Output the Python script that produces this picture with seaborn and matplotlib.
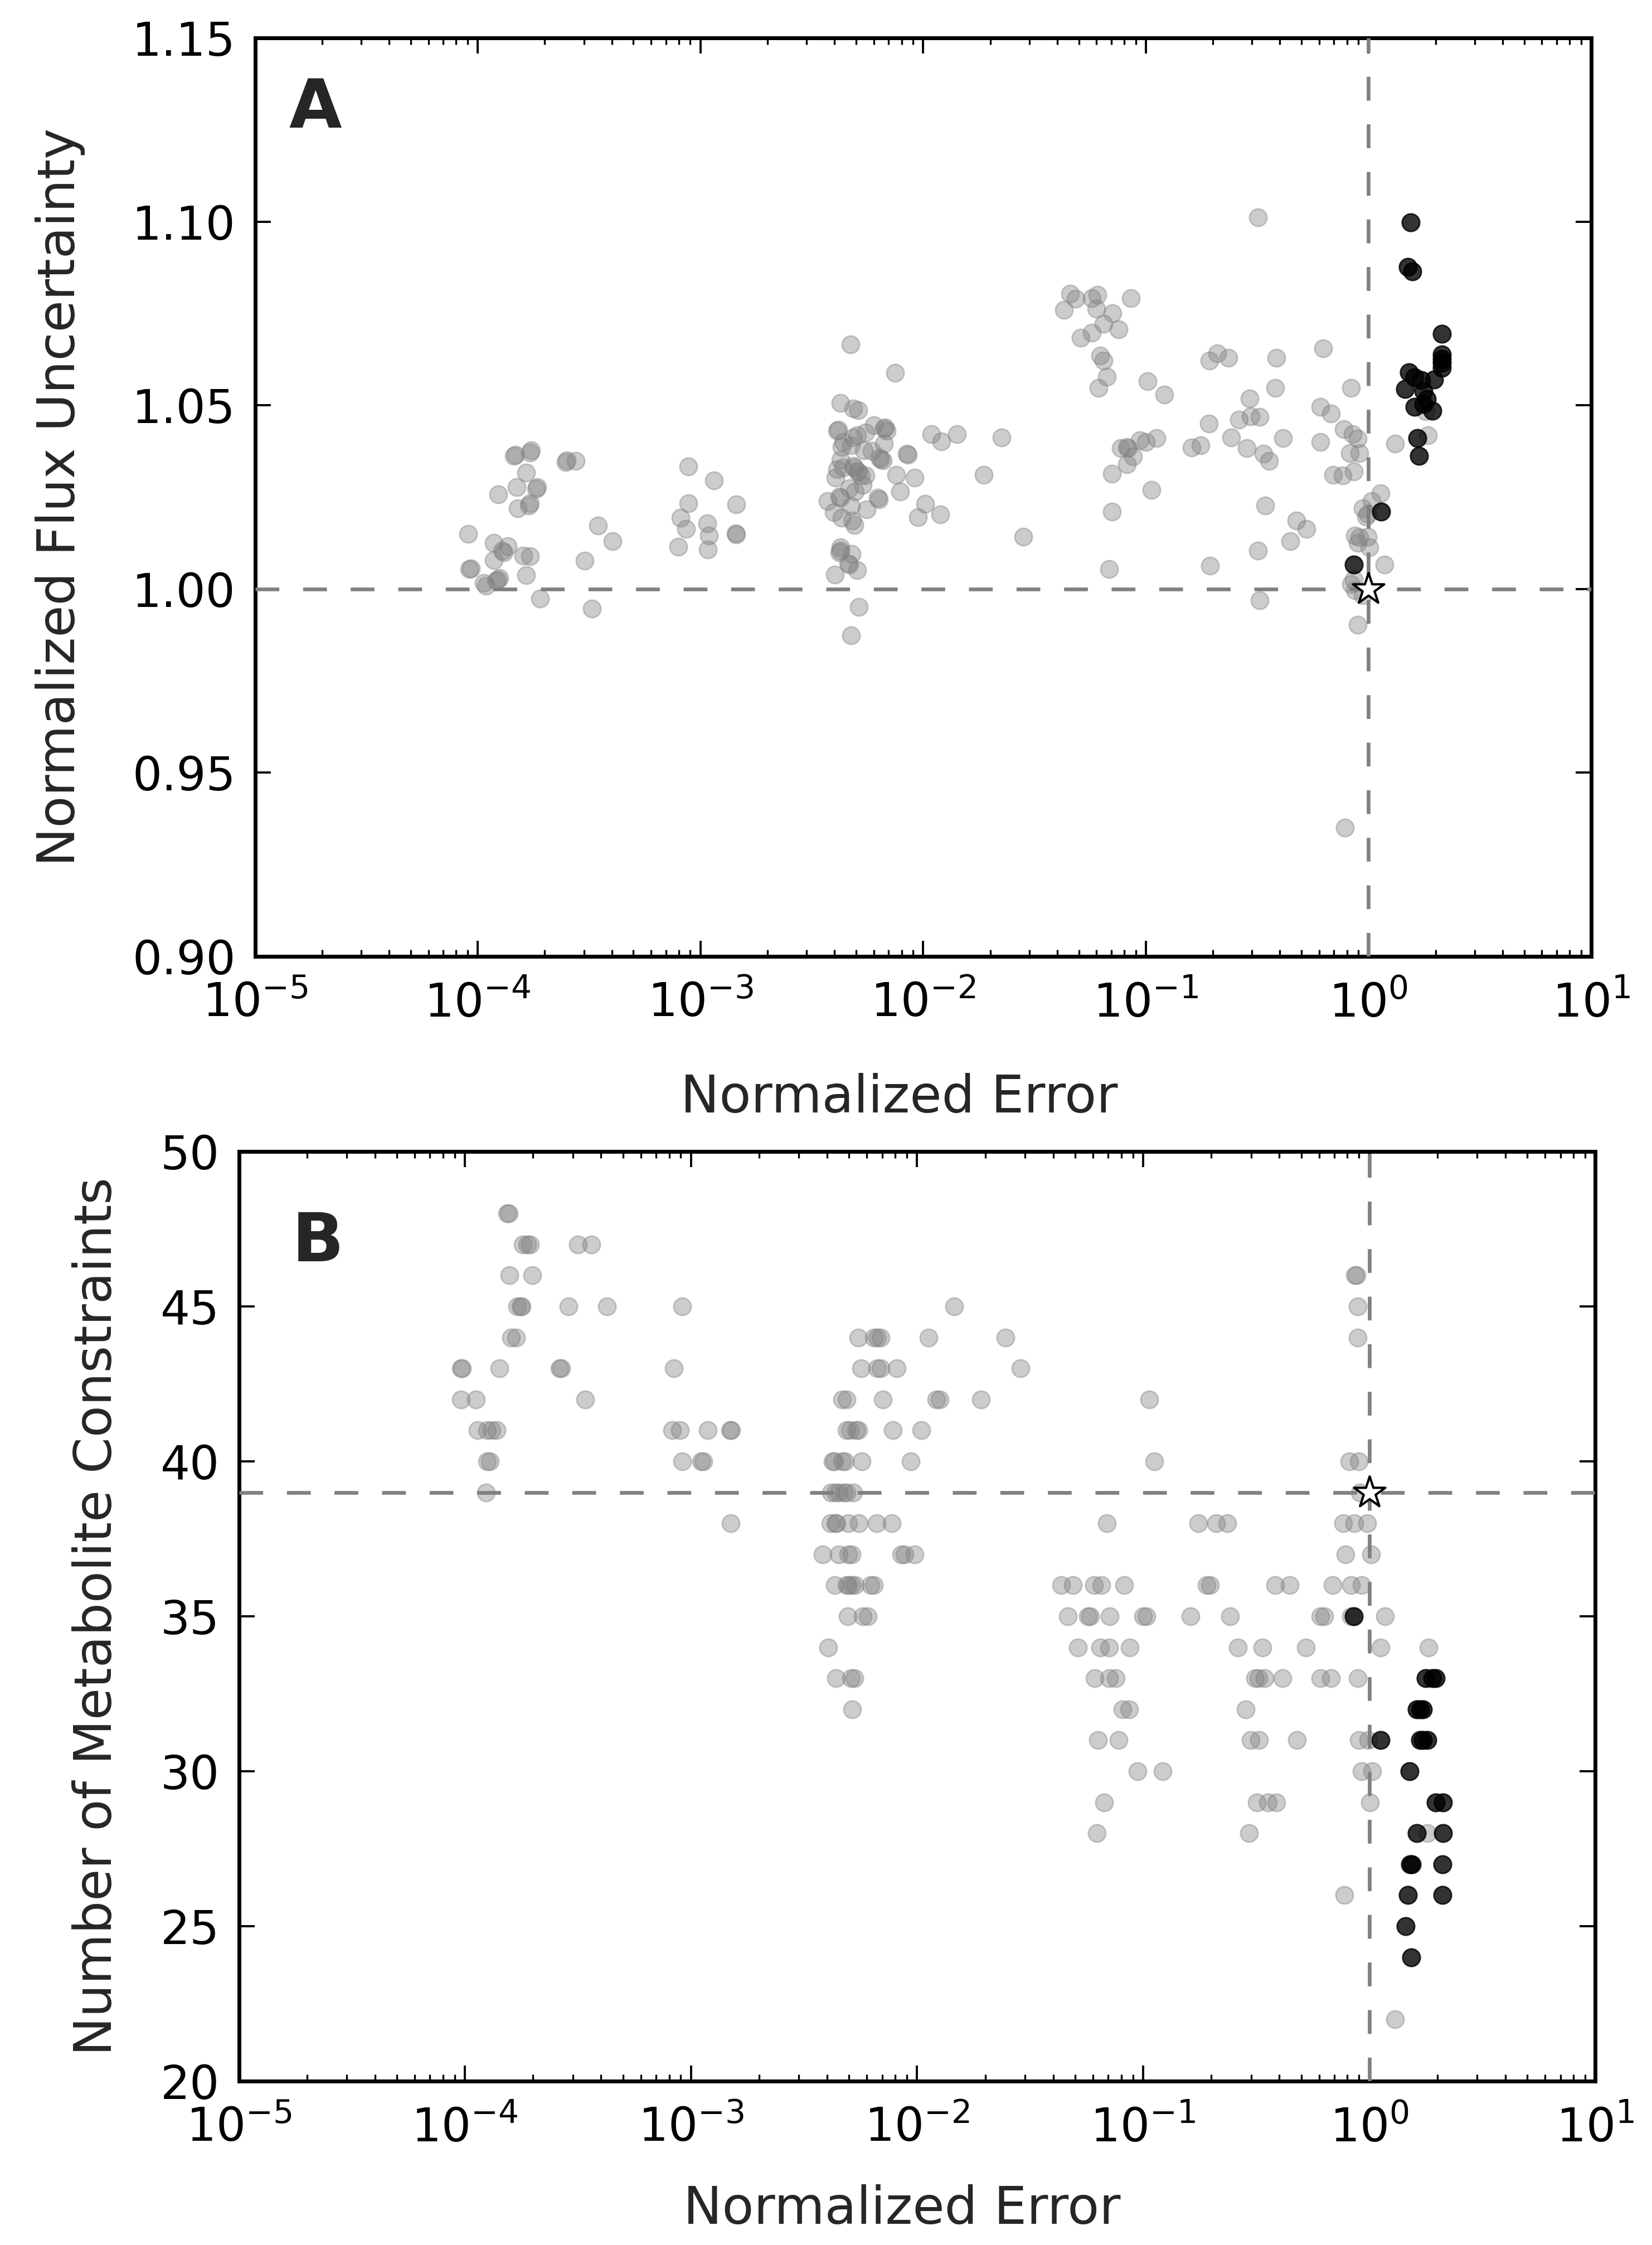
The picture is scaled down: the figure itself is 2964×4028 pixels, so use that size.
import numpy as np
import matplotlib
matplotlib.use("Agg")
import matplotlib.pyplot as plt
import seaborn as sns
from matplotlib.ticker import LogLocator, FixedLocator, FormatStrFormatter, NullLocator

# ==========================================
# Data (x values stored as log10 of normalized error)
# ==========================================
# Panel A: normalized error vs normalized flux uncertainty, grey solutions
a_gray_log_err = [
    -4.043, -4.037, -4.030, -3.972, -3.963, -3.910, -3.918, -3.902, -3.928, -3.928,
    -3.884, -3.890, -3.866, -3.796, -3.764, -3.782, -3.909, -3.826, -3.783, -3.831,
    -3.838, -3.760, -3.766, -3.732, -3.737, -3.764, -3.770, -3.820, -3.720, -3.600,
    -3.606, -3.561, -3.519, -3.461, -3.394, -3.487,
    -3.055, -2.940, -3.055, -3.090, -3.064, -2.970, -2.962, -3.099, -2.967, -2.838,
    -2.838, -2.842,
    -2.327, -2.126, -2.371, -2.314, -2.291, -2.385, -2.380, -2.358, -2.314, -2.297,
    -2.258, -2.221, -2.177, -2.172, -2.164, -2.177, -2.367, -2.323, -2.265, -2.230,
    -2.371, -2.196, -2.191, -2.182, -2.073, -2.069, -2.385, -2.358, -2.314, -2.309,
    -2.297, -2.292, -2.279, -2.258, -2.394, -2.270, -2.332, -2.305, -2.376, -2.371,
    -2.429, -2.323, -2.203, -2.199, -2.253, -2.402, -2.367, -2.318, -2.309, -2.372,
    -2.376, -2.371, -2.320, -2.335, -2.330, -2.297, -2.397, -2.288, -2.323, -2.120,
    -2.037, -2.103, -1.991, -2.023, -1.923, -1.962, -1.917, -1.847, -1.729, -1.648,
    -0.497, -1.340, -1.314, -1.243, -1.217, -1.367, -1.222, -1.150, -1.190, -1.123,
    -1.243, -1.293, -1.205, -1.190, -1.176, -1.212, -0.991, -0.917, -1.067, -0.203,
    -0.679, -0.714, -0.630, -0.414, -0.418, -0.079, -0.533, -0.718, -0.582, -0.529,
    -0.489, -0.217, -0.168, -0.111, -0.071, -0.048, -0.617, -0.547, -0.471, -0.446,
    -0.383, -0.217, -0.794, -0.755, -1.111, -1.085, -1.080, -1.058, -1.026, -1.000,
    -0.952, -1.085, -1.152, -0.083, -0.041, -0.159, -0.115, -0.065, 0.118, 0.268,
    0.256, -0.974, -1.152, -0.464, -0.323, -0.279, -0.351, -0.497, -1.550, -1.164,
    -0.711, -0.489, -0.048, 0.053, 0.014, -0.026, -0.004, -0.012, -0.062, -0.041,
    -0.004, -0.048, 0.005, 0.072, -0.079, -0.062, -0.026, -0.067, -0.107,
]
a_gray_unc = [
    1.0150, 1.0054, 1.0056, 1.0017, 1.0009, 1.0026, 1.0022, 1.0030, 1.0126, 1.0078,
    1.0100, 1.0104, 1.0117, 1.0091, 1.0089, 1.0037, 1.0257, 1.0278, 1.0316, 1.0365,
    1.0362, 1.0377, 1.0372, 1.0277, 1.0272, 1.0233, 1.0228, 1.0219, 0.9974, 1.0350,
    1.0346, 1.0348, 1.0077, 1.0172, 1.0130, 0.9947,
    1.0333, 1.0296, 1.0233, 1.0194, 1.0163, 1.0178, 1.0146, 1.0115, 1.0108, 1.0231,
    1.0148, 1.0152,
    1.0665, 1.0588, 1.0507, 1.0491, 1.0487, 1.0430, 1.0434, 1.0400, 1.0413, 1.0419,
    1.0426, 1.0445, 1.0437, 1.0440, 1.0430, 1.0395, 1.0387, 1.0391, 1.0378, 1.0376,
    1.0352, 1.0357, 1.0353, 1.0350, 1.0368, 1.0365, 1.0326, 1.0330, 1.0335, 1.0331,
    1.0322, 1.0318, 1.0309, 1.0309, 1.0303, 1.0283, 1.0274, 1.0265, 1.0252, 1.0248,
    1.0239, 1.0226, 1.0248, 1.0244, 1.0216, 1.0209, 1.0194, 1.0187, 1.0174, 1.0113,
    1.0100, 1.0104, 1.0096, 1.0070, 1.0066, 1.0052, 1.0039, 0.9951, 0.9873, 1.0310,
    1.0303, 1.0265, 1.0232, 1.0196, 1.0203, 1.0421, 1.0402, 1.0421, 1.0310, 1.0413,
    1.1011, 1.0804, 1.0790, 1.0791, 1.0800, 1.0759, 1.0763, 1.0750, 1.0722, 1.0707,
    1.0698, 1.0684, 1.0635, 1.0622, 1.0577, 1.0548, 1.0565, 1.0529, 1.0791, 1.0655,
    1.0642, 1.0622, 1.0630, 1.0629, 1.0548, 1.0548, 1.0519, 1.0450, 1.0461, 1.0470,
    1.0468, 1.0496, 1.0478, 1.0435, 1.0422, 1.0409, 1.0413, 1.0383, 1.0368, 1.0348,
    1.0411, 1.0400, 1.0385, 1.0391, 1.0383, 1.0387, 1.0383, 1.0361, 1.0404, 1.0400,
    1.0411, 1.0339, 1.0313, 1.0370, 1.0370, 1.0311, 1.0309, 1.0320, 1.0396, 1.0419,
    1.0483, 1.0270, 1.0210, 1.0228, 1.0187, 1.0163, 1.0130, 1.0104, 1.0142, 1.0055,
    1.0063, 0.9970, 0.9902, 1.0261, 1.0239, 1.0219, 1.0204, 1.0197, 1.0145, 1.0141,
    1.0143, 1.0126, 1.0113, 1.0067, 1.0013, 0.9996, 0.9983, 1.0026, 0.9350,
]

# Panel A: highlighted (black) solutions
a_black_log_err = [0.190, 0.176, 0.198, 0.330, 0.330, 0.330, 0.330, 0.330, 0.182, 0.208,
                   0.238, 0.295, 0.164, 0.247, 0.261, 0.247, 0.208, 0.287, 0.220, 0.226,
                   0.056, -0.065]
a_black_unc = [1.0998, 1.0876, 1.0865, 1.0694, 1.0639, 1.0626, 1.0616, 1.0602, 1.0590, 1.0576,
               1.0568, 1.0570, 1.0545, 1.0539, 1.0517, 1.0504, 1.0496, 1.0485, 1.0411, 1.0363,
               1.0211, 1.0067]

# Panel B: number of metabolite constraints (one entry per row of points)
b_gray_rows = [48, 47, 46, 45, 44, 43, 42, 41, 40, 39, 38, 37, 36, 35, 34, 33, 32, 31, 30, 29, 28, 26, 22]
b_gray_log_err = [
    [-3.812, -3.806],
    [-3.745, -3.725, -3.713, -3.500, -3.441],
    [-3.804, -3.701, -0.064, -0.057],
    [-3.770, -3.755, -3.748, -3.543, -3.373, -3.038, -1.836, -0.052],
    [-3.797, -3.773, -2.260, -2.190, -2.176, -2.162, -1.950, -1.609, -0.052],
    [-4.018, -4.012, -3.847, -3.582, -3.574, -3.076, -2.247, -2.176, -2.162, -2.090, -1.543],
    [-4.019, -3.950, -3.469, -2.332, -2.313, -2.152, -1.915, -1.901, -1.717, -0.972],
    [-3.943, -3.903, -3.882, -3.861, -3.083, -3.048, -2.925, -2.828, -2.822, -2.311, -2.297,
     -2.271, -2.261, -2.108, -1.981],
    [-3.903, -3.889, -3.038, -2.956, -2.945, -2.374, -2.367, -2.332, -2.318, -2.246, -2.028,
     -0.951, -0.088, -0.047],
    [-3.906, -2.381, -2.360, -2.346, -2.325, -2.311, -2.282, -0.041],
    [-2.825, -2.384, -2.360, -2.355, -2.304, -2.257, -2.179, -2.113, -1.160, -0.755, -0.677,
     -0.627, -0.115, -0.066, -0.009],
    [-2.417, -2.346, -2.304, -2.290, -2.070, -2.055, -2.011, -0.106, 0.007],
    [-2.364, -2.311, -2.304, -2.289, -2.275, -2.205, -2.190, -1.363, -1.310, -1.218, -1.186,
     -1.083, -0.720, -0.704, -0.417, -0.352, -0.161, -0.080, -0.034],
    [-2.308, -2.240, -2.219, -1.333, -1.245, -1.235, -1.148, -0.999, -0.985, -0.790, -0.615,
     -0.217, -0.200, -0.080, 0.070],
    [-2.393, -1.289, -1.190, -1.150, -1.060, -0.582, -0.473, -0.281, 0.050, 0.262],
    [-2.358, -2.293, -2.278, -1.215, -1.150, -1.122, -0.504, -0.490, -0.462, -0.384, -0.217,
     -0.169, -0.052],
    [-2.287, -1.091, -1.063, -0.547],
    [-1.200, -1.108, -0.525, -0.487, -0.321, -0.045, -0.005],
    [-1.025, -0.914, -0.034, 0.012],
    [-1.173, -0.497, -0.448, -0.412, 0.002],
    [-1.206, -0.533, 0.256],
    [-0.111],
    [0.114],
]
b_black_rows = [35, 33, 32, 31, 30, 29, 28, 27, 26, 25, 24]
b_black_log_err = [
    [-0.069],
    [0.249, 0.280, 0.294],
    [0.210, 0.224, 0.238],
    [0.051, 0.224, 0.238, 0.256],
    [0.177],
    [0.294, 0.325],
    [0.210, 0.325],
    [0.181, 0.188, 0.323],
    [0.172, 0.323],
    [0.161],
    [0.185],
]

# reference solution (star) and its guide lines
ref_err = [1.0]
ref_unc = [1.0]
ref_count = [39]

a_yticks = [0.90, 0.95, 1.00, 1.05, 1.10, 1.15]
b_yticks = [20, 25, 30, 35, 40, 45, 50]


def flatten_rows(rows, per_row):
    xs, ys = [], []
    for r, vals in zip(rows, per_row):
        xs.extend(vals)
        ys.extend([r] * len(vals))
    return 10 ** np.array(xs), ys


b_gray_x, b_gray_y = flatten_rows(b_gray_rows, b_gray_log_err)
b_black_x, b_black_y = flatten_rows(b_black_rows, b_black_log_err)

# ==========================================
# Style
# ==========================================
sns.set_style("ticks")
plt.rcParams["font.family"] = ["DejaVu Sans"]
plt.rcParams["mathtext.fontset"] = "dejavusans"
plt.rcParams["axes.unicode_minus"] = False
plt.rcParams["axes.edgecolor"] = "black"
plt.rcParams["xtick.color"] = "black"
plt.rcParams["ytick.color"] = "black"

fig = plt.figure(figsize=(14.82, 20.14), dpi=200)
ax_a = fig.add_axes([0.1544, 0.5740, 0.8088, 0.4091])
ax_b = fig.add_axes([0.1446, 0.0730, 0.8211, 0.4141])

dash = (0, (6.4, 6.4))
label_size = 33.5


def draw_panel(ax, gx, gy, bx, by, ref_y):
    sns.scatterplot(x=gx, y=gy, ax=ax, color="gray", alpha=0.4, s=128,
                    edgecolor="gray", linewidth=1.0, zorder=2)
    sns.scatterplot(x=bx, y=by, ax=ax, color="black", alpha=0.8, s=128,
                    edgecolor="black", linewidth=1.0, zorder=3)
    ax.axhline(ref_y[0], color="gray", lw=2.4, ls=dash, zorder=4)
    ax.axvline(ref_err[0], color="gray", lw=2.4, ls=dash, zorder=4)
    sns.scatterplot(x=ref_err, y=ref_y, ax=ax, marker="*", s=450, color="white",
                    edgecolor="black", linewidth=1.5, zorder=5)
    ax.set_xscale("log")
    ax.set_xlim(1e-5, 1e1)
    ax.xaxis.set_major_locator(LogLocator(base=10, numticks=10))
    ax.xaxis.set_minor_locator(LogLocator(base=10, subs=np.arange(2, 10), numticks=100))
    ax.yaxis.set_minor_locator(NullLocator())
    ax.tick_params(which="both", direction="in", top=True, right=True)
    ax.tick_params(which="major", length=10, width=1.4, labelsize=30)
    ax.tick_params(axis="x", which="major", pad=16)
    ax.tick_params(axis="y", which="major", pad=12.5)
    ax.tick_params(which="minor", length=4.3, width=1.2)
    for sp in ax.spines.values():
        sp.set_linewidth(2.5)
        sp.set_color("black")
    ax.set_xlabel("Normalized Error", fontsize=label_size)


# Panel A
draw_panel(ax_a, 10 ** np.array(a_gray_log_err), a_gray_unc,
           10 ** np.array(a_black_log_err), a_black_unc, ref_unc)
ax_a.set_ylim(0.90, 1.15)
ax_a.yaxis.set_major_locator(FixedLocator(a_yticks))
ax_a.yaxis.set_major_formatter(FormatStrFormatter("%.2f"))
ax_a.set_ylabel("Normalized Flux Uncertainty", fontsize=label_size)
ax_a.yaxis.set_label_coords(-0.127, 0.5)
ax_a.xaxis.set_label_coords(0.482, -0.1268)
ax_a.text(0.0252, 0.958, "A", transform=ax_a.transAxes, fontsize=44,
          fontweight="bold", ha="left", va="top")

# Panel B
draw_panel(ax_b, b_gray_x, b_gray_y, b_black_x, b_black_y, ref_count)
ax_b.set_ylim(20, 50)
ax_b.yaxis.set_major_locator(FixedLocator(b_yticks))
ax_b.set_ylabel("Number of Metabolite Constraints", fontsize=label_size)
ax_b.yaxis.set_label_coords(-0.0862, 0.5)
ax_b.xaxis.set_label_coords(0.489, -0.1109)
ax_b.text(0.039, 0.9373, "B", transform=ax_b.transAxes, fontsize=44,
          fontweight="bold", ha="left", va="top")

fig.savefig("out.png", dpi=200)
